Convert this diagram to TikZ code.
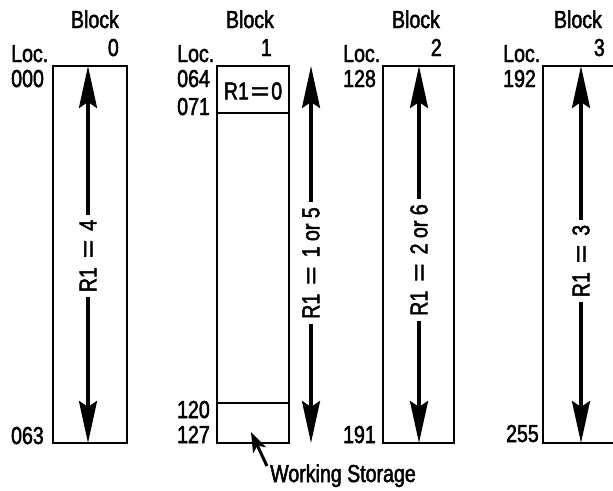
\documentclass[tikz,border=0pt]{standalone}
\usepackage{graphicx}
\usepackage{fontspec}
\setmainfont[FakeStretch=0.8,FakeBold=2]{Liberation Sans}
\usetikzlibrary{arrows.meta}
\newcommand\wideeq{\scalebox{1.6}[1]{=}}
\begin{document}
\begin{tikzpicture}[x=1pt,y=-1pt,
  txt/.style={inner sep=0pt,font=\fontsize{24.5}{28}\selectfont},
  boxline/.style={line width=2.6pt},
  bigarrow/.style={line width=3.6pt,{Stealth[length=42pt,width=18pt,inset=6pt]}-{Stealth[length=42pt,width=18pt,inset=6pt]}},
  lbl/.style={txt,rotate=90,fill=white,inner xsep=5pt,inner ysep=3pt}]
\useasboundingbox (0,0) rectangle (613,490);
% boxes
\draw[boxline] (53,66) rectangle (127,443);
\draw[boxline] (217,66) rectangle (289,443);
\draw[boxline] (217,113) -- (289,113);
\draw[boxline] (217,403) -- (289,403);
\draw[boxline] (383,66) rectangle (454,443);
\draw[boxline] (616,66) -- (543,66) -- (543,443) -- (616,443);
% arrow end points
\coordinate (a0t) at (88,66);  \coordinate (a0b) at (88,443);
\coordinate (a1t) at (311,66); \coordinate (a1b) at (311,443);
\coordinate (a2t) at (419,66); \coordinate (a2b) at (419,443);
\coordinate (a3t) at (581,66); \coordinate (a3b) at (581,443);
\draw[bigarrow] (a0t) -- (a0b);
\draw[bigarrow] (a1t) -- (a1b);
\draw[bigarrow] (a2t) -- (a2b);
\draw[bigarrow] (a3t) -- (a3b);
\node[lbl] (l0) at (88,256) {R1\kern9pt\wideeq\kern9pt4};
\node[lbl] (l1) at (311,263) {R1\kern9pt\wideeq\kern9pt1 or 5};
\node[lbl] (l2) at (419,260) {R1\kern9pt\wideeq\kern9pt2 or 6};
\node[lbl] (l3) at (581,261) {R1\kern9pt\wideeq\kern9pt3};
% headers
\node[txt,anchor=base] (b0) at (95,28) {Block};
\node[txt,anchor=base east] (n0) at (119,56) {0};
\node[txt,anchor=base west] (loc0) at (11,62) {Loc.};
\node[txt,anchor=base west] (s0) at (11,87) {000};
\node[txt,anchor=base east] (e0) at (44,444) {063};
\node[txt,anchor=base] (b1) at (250,28) {Block};
\node[txt,anchor=base east] (n1) at (272,56) {1};
\node[txt,anchor=base west] (loc1) at (177,62) {Loc.};
\node[txt,anchor=base west] (s1) at (177,87) {064};
\node[txt,anchor=base west] (s1b) at (177,115) {071};
\node[txt,anchor=base east] (e1a) at (210,418) {120};
\node[txt,anchor=base east] (e1) at (210,443) {127};
\node[txt] (r0) at (253,91) {R1\kern2pt\wideeq\kern2pt0};
\node[txt,anchor=base] (b2) at (416,28) {Block};
\node[txt,anchor=base east] (n2) at (442,56) {2};
\node[txt,anchor=base west] (loc2) at (343,62) {Loc.};
\node[txt,anchor=base west] (s2) at (343,87) {128};
\node[txt,anchor=base east] (e2) at (376,443) {191};
\node[txt,anchor=base] (b3) at (578,28) {Block};
\node[txt,anchor=base east] (n3) at (605,56) {3};
\node[txt,anchor=base west] (loc3) at (503,62) {Loc.};
\node[txt,anchor=base west] (s3) at (503,87) {192};
\node[txt,anchor=base east] (e3) at (539,442) {255};
% working storage
\node[txt,anchor=base west] (ws) at (270,482) {Working Storage};
\coordinate (wstip) at (251,432);
\draw[line width=3pt,-{Stealth[length=20pt,width=14pt,inset=5pt]}] (ws.north west) ++(-3,2) -- (wstip);
\end{tikzpicture}
\end{document}
